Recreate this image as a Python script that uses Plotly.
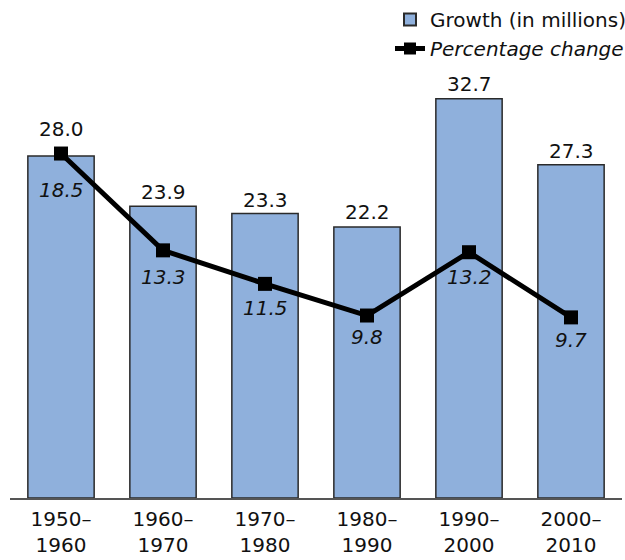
import plotly.graph_objects as go

periods = ["1950–<br>1960", "1960–<br>1970", "1970–<br>1980", "1980–<br>1990", "1990–<br>2000", "2000–<br>2010"]
growth = [28.0, 23.9, 23.3, 22.2, 32.7, 27.3]
pct_change = [18.5, 13.3, 11.5, 9.8, 13.2, 9.7]

FONT = "DejaVu Sans"
TOP, BOTTOM = 0, 62
plot_h = 560 - TOP - BOTTOM
px_per_growth = 12.21
px_per_pct = 18.62

fig = go.Figure()
fig.add_trace(go.Bar(
    x=periods, y=growth, name="Growth (in millions)",
    marker=dict(color="#8fb0dc", line=dict(color="#2a2a2a", width=1.5)),
    width=0.65,
))
fig.add_trace(go.Scatter(
    x=periods, y=pct_change, name="<i>Percentage change</i>", yaxis="y2",
    mode="lines+markers",
    line=dict(color="black", width=5),
    marker=dict(symbol="square", size=14, color="black"),
    cliponaxis=False,
))

bar_shifts = [27, 14, 14, 15, 15, 14]
for i, (p, v) in enumerate(zip(periods, growth)):
    fig.add_annotation(x=p, y=v, yref="y", text=f"{v:.1f}", showarrow=False,
                       yshift=bar_shifts[i], font=dict(size=20, color="#111", family=FONT))

pct_shifts = [-36, -27, -24, -21, -25, -23]
for i, (p, v) in enumerate(zip(periods, pct_change)):
    fig.add_annotation(x=p, y=v, yref="y2", text=f"<i>{v:.1f}</i>", showarrow=False,
                       yshift=pct_shifts[i], font=dict(size=20, color="#111", family=FONT))

fig.update_layout(
    width=625, height=560,
    margin=dict(l=10, r=0, t=TOP, b=BOTTOM, autoexpand=False),
    plot_bgcolor="white", paper_bgcolor="white",
    font=dict(family=FONT, size=20, color="#111"),
    showlegend=True,
    legend=dict(x=1 + 6 / 615, y=1, xanchor="right", yanchor="top", bgcolor="rgba(0,0,0,0)",
                font=dict(size=20), tracegroupgap=0, itemsizing="constant",
                borderwidth=0),
    bargap=0.35,
    xaxis=dict(showline=True, linecolor="#555", linewidth=2, ticks="", showgrid=False,
               tickfont=dict(size=20), range=[-0.5, 5.5], domain=[0, 612 / 615],
               ticklabelstandoff=2, automargin=False),
    yaxis=dict(range=[0, plot_h / px_per_growth], visible=False, showgrid=False),
    yaxis2=dict(range=[0, plot_h / px_per_pct], overlaying="y", visible=False, showgrid=False),
)
fig.write_html("out.html", config={"displayModeBar": False},
               post_script="document.body.style.margin='0';")
